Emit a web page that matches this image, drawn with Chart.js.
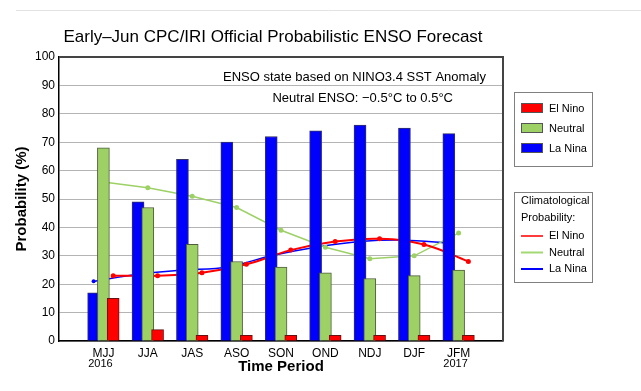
<!DOCTYPE html>
<html>
<head>
<meta charset="utf-8">
<title>ENSO Forecast</title>
<script src="https://cdn.jsdelivr.net/npm/chart.js@4/dist/chart.umd.min.js"></script>
<style>
  html, body { margin: 0; padding: 0; background: #ffffff; }
  #wrap { width: 641px; height: 391px; position: relative; }
</style>
</head>
<body>
<div id="wrap"><canvas id="ensoChart" width="641" height="391"></canvas></div>
<script>
// Season labels (3-month periods)
var periods = ['MJJ', 'JJA', 'JAS', 'ASO', 'SON', 'OND', 'NDJ', 'DJF', 'JFM'];
var yearLabels = ['2016', '', '', '', '', '', '', '', '2017'];

// Forecast probabilities (%)
var elNino = [15, 4, 2, 2, 2, 2, 2, 2, 2];
var neutral = [68, 47, 34, 28, 26, 24, 22, 23, 25];
var laNina = [17, 49, 64, 70, 72, 74, 76, 75, 73];

// Climatological probabilities (%)
var climElNino = [23, 23, 24, 27, 32, 35, 36, 34, 28];
var climNeutral = [56, 54, 51, 47, 39, 33, 29, 30, 38];
var climLaNina = [21, 23.5, 25, 26, 30, 33, 35, 35.5, 34.5];

var yTicks = [0, 10, 20, 30, 40, 50, 60, 70, 80, 90, 100];

var FONT = '"Liberation Sans", Arial, sans-serif';
var RED = '#ff0000';
var GREEN = '#9dd166';
var BLUE = '#0000ff';

// bars sit side by side inside a season slot, slightly overlapping
var SHIFT = 0.22;

function pts(values, shift) {
    var out = [];
    for (var i = 0; i < values.length; i++) {
        out.push({ x: i + 1 + shift, y: values[i] });
    }
    return out;
}

var extras = {
    id: 'ensoExtras',
    beforeDraw: function (chart) {
        var ctx = chart.ctx;
        ctx.save();
        ctx.strokeStyle = '#e2e2e2';
        ctx.lineWidth = 1;
        ctx.beginPath();
        ctx.moveTo(16, 10.5);
        ctx.lineTo(641, 10.5);
        ctx.stroke();

        ctx.fillStyle = '#000';
        ctx.font = '17px ' + FONT;
        ctx.textAlign = 'center';
        ctx.textBaseline = 'middle';
        ctx.fillText('Early\u2013Jun CPC/IRI Official Probabilistic ENSO Forecast', 273, 37);
        ctx.restore();
    },
    afterDraw: function (chart) {
        var ctx = chart.ctx;
        var a = chart.chartArea;
        var xs = chart.scales.x;
        ctx.save();

        // top/right frame
        ctx.strokeStyle = '#444';
        ctx.lineWidth = 2;
        ctx.beginPath();
        ctx.moveTo(a.left, a.top);
        ctx.lineTo(a.right, a.top);
        ctx.lineTo(a.right, a.bottom);
        ctx.stroke();

        // notes inside the plot
        ctx.fillStyle = '#000';
        ctx.font = '13px ' + FONT;
        ctx.textAlign = 'right';
        ctx.textBaseline = 'middle';
        ctx.fillText('ENSO state based on NINO3.4 SST Anomaly', 486, 77);
        ctx.fillText('Neutral ENSO: \u22120.5\u00B0C to 0.5\u00B0C', 453, 98);

        // year labels under the first/last season
        ctx.font = '11px ' + FONT;
        ctx.textAlign = 'center';
        for (var i = 0; i < yearLabels.length; i++) {
            if (yearLabels[i]) {
                ctx.fillText(yearLabels[i], xs.getPixelForValue(i + 1) - 3, 364);
            }
        }

        // legend: forecast bars
        ctx.strokeStyle = '#808080';
        ctx.lineWidth = 1;
        ctx.strokeRect(514.5, 92.5, 78, 74);
        ctx.strokeRect(514.5, 192.5, 78, 90);

        var barItems = [
            { label: 'El Nino', color: RED },
            { label: 'Neutral', color: GREEN },
            { label: 'La Nina', color: BLUE }
        ];
        ctx.font = '11px ' + FONT;
        ctx.textAlign = 'left';
        for (var b = 0; b < barItems.length; b++) {
            var by = 103 + b * 20;
            ctx.fillStyle = barItems[b].color;
            ctx.fillRect(521, by, 22, 10);
            ctx.strokeStyle = '#555';
            ctx.strokeRect(521.5, by + 0.5, 21, 9);
            ctx.fillStyle = '#000';
            ctx.fillText(barItems[b].label, 549, by + 5.5);
        }

        // legend: climatology lines
        ctx.fillText('Climatological', 521, 201);
        ctx.fillText('Probability:', 521, 218);
        var lineItems = [
            { label: 'El Nino', color: '#ff3b3b' },
            { label: 'Neutral', color: '#a3d873' },
            { label: 'La Nina', color: BLUE }
        ];
        for (var l = 0; l < lineItems.length; l++) {
            var ly = 236 + l * 16.5;
            ctx.strokeStyle = lineItems[l].color;
            ctx.lineWidth = 2;
            ctx.beginPath();
            ctx.moveTo(521, ly);
            ctx.lineTo(543, ly);
            ctx.stroke();
            ctx.fillStyle = '#000';
            ctx.fillText(lineItems[l].label, 549, ly);
        }
        ctx.restore();
    }
};

new Chart(document.getElementById('ensoChart'), {
    type: 'bar',
    data: {
        datasets: [
            {
                label: 'El Nino',
                data: pts(elNino, SHIFT),
                backgroundColor: RED,
                borderColor: '#6b1010',
                borderWidth: 1,
                barThickness: 12,
                grouped: false,
                order: 1
            },
            {
                label: 'Neutral',
                data: pts(neutral, 0),
                backgroundColor: GREEN,
                borderColor: '#4f5d3c',
                borderWidth: 1,
                barThickness: 12,
                grouped: false,
                order: 2
            },
            {
                label: 'La Nina',
                data: pts(laNina, -SHIFT),
                backgroundColor: BLUE,
                borderColor: '#333366',
                borderWidth: 1,
                barThickness: 12,
                grouped: false,
                order: 3
            },
            {
                type: 'line',
                label: 'Clim. El Nino',
                data: pts(climElNino, SHIFT),
                borderColor: RED,
                backgroundColor: RED,
                borderWidth: 2,
                tension: 0.4,
                pointRadius: 2.5,
                pointBorderWidth: 0,
                order: 10
            },
            {
                type: 'line',
                label: 'Clim. Neutral',
                data: pts(climNeutral, 0),
                borderColor: '#9dd166',
                backgroundColor: '#9dd166',
                borderWidth: 1.5,
                tension: 0,
                pointRadius: 2.5,
                pointBorderWidth: 0,
                order: 10
            },
            {
                type: 'line',
                label: 'Clim. La Nina',
                data: pts(climLaNina, -SHIFT),
                borderColor: BLUE,
                backgroundColor: BLUE,
                borderWidth: 1.5,
                tension: 0.3,
                pointRadius: 2,
                pointBorderWidth: 0,
                order: 10
            }
        ]
    },
    options: {
        responsive: false,
        animation: false,
        events: [],
        layout: { padding: { top: 57, right: 138, left: 0, bottom: 0 } },
        plugins: {
            legend: { display: false },
            tooltip: { enabled: false },
            title: { display: false }
        },
        scales: {
            x: {
                type: 'linear',
                min: 0,
                max: periods.length + 1,
                offset: false,
                grid: { display: false, drawTicks: false },
                border: { color: '#000', width: 1.5 },
                ticks: {
                    stepSize: 1,
                    autoSkip: false,
                    maxRotation: 0,
                    padding: 5,
                    color: '#000',
                    font: { family: FONT, size: 12 },
                    callback: function (v) { return periods[v - 1] || ''; }
                },
                title: {
                    display: true,
                    text: 'Time Period',
                    color: '#000',
                    font: { family: FONT, size: 15, weight: 'bold' },
                    padding: { top: 0, bottom: 15 }
                },
                afterFit: function (s) { s.height = 50; }
            },
            y: {
                min: 0,
                max: 100,
                afterBuildTicks: function (s) {
                    s.ticks = yTicks.map(function (v) { return { value: v }; });
                },
                grid: { color: '#b4b4b4', lineWidth: 1, drawTicks: false },
                border: { color: '#000', width: 1.5 },
                ticks: {
                    padding: 4,
                    color: '#000',
                    font: { family: FONT, size: 12 }
                },
                title: {
                    display: true,
                    text: 'Probability (%)',
                    color: '#000',
                    font: { family: FONT, size: 15, weight: 'bold' },
                    padding: { top: 13, bottom: 0 }
                },
                afterFit: function (s) { s.width = 59; }
            }
        }
    },
    plugins: [extras]
});
</script>
</body>
</html>
